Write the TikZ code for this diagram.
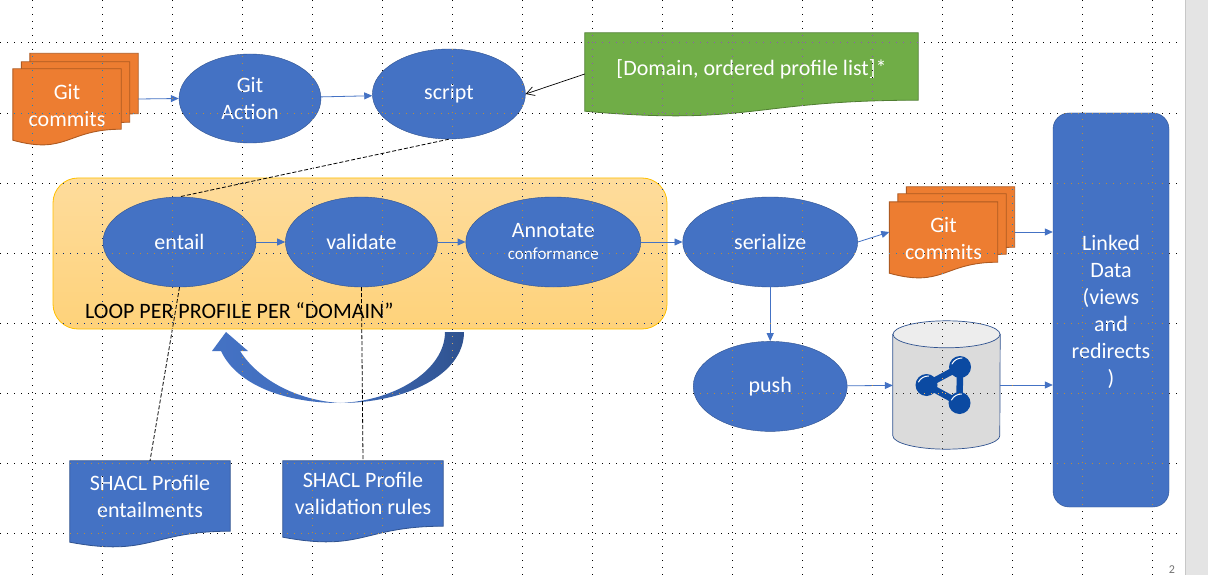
\documentclass[tikz,border=0pt]{standalone}
\usepackage{fontspec}
\setmainfont{Carlito}
\usetikzlibrary{shapes,arrows.meta,positioning,calc,backgrounds}
\definecolor{shapeblue}{HTML}{4472C4}
\definecolor{edgeblue}{HTML}{2F528F}
\definecolor{shapeorange}{HTML}{ED7D31}
\definecolor{edgeorange}{HTML}{AE5A21}
\definecolor{shapegreen}{HTML}{70AD47}
\definecolor{edgegreen}{HTML}{507E32}
\definecolor{ballblue}{HTML}{0B4AA2}
\definecolor{looptop}{HTML}{FEDC9C}
\definecolor{loopbottom}{HTML}{FED27A}
\definecolor{loopedge}{HTML}{FFC000}
% sheet with a wavy lower edge behind a named node
\newcommand{\wavedoc}[2]{\draw[#2] (#1.north west) -- (#1.north east) -- (#1.south east) .. controls (#1.south) and ($(#1.south)+(0,26)$) .. ($(#1.south west)+(0,11)$) -- cycle;}

\begin{document}
\begin{tikzpicture}[
  x=1pt, y=-1pt,
  font=\fontsize{22}{27}\selectfont,
  proc/.style={draw=edgeblue, fill=shapeblue, ellipse, text=white, align=center, inner sep=0pt, minimum width=153pt, minimum height=90pt},
  doc/.style={rectangle, text=white, align=center, inner sep=0pt},
  sheet/.style={doc, minimum width=108pt, minimum height=60pt},
  orangesheet/.style={draw=edgeorange, fill=shapeorange, line width=0.9pt},
  bluesheet/.style={draw=edgeblue, fill=shapeblue, line width=0.8pt},
  greensheet/.style={draw=edgegreen, fill=shapegreen, line width=0.8pt},
  flow/.style={draw=shapeblue, line width=0.8pt, -{Triangle[length=8pt,width=7pt]}},
  link/.style={draw=black, line width=0.8pt, dash pattern=on 4pt off 2pt},
  ball/.style={circle, fill=ballblue, minimum size=22pt, inner sep=0pt},
  griddots/.style={white, line width=1.2pt, dash pattern=on 1.2pt off 5.8pt, blend mode=difference}
]
\useasboundingbox (0,0) rectangle (1208,575);

% first row
\node[sheet] (commitsc) at (84,83.5) {};
\node[sheet] (commitsb) at (75.5,92) {};
\node[sheet] (commitsa) at (67,99) {\rule{0pt}{28pt}Git\\commits};
\node[proc, minimum width=142pt, minimum height=89pt] (action) at (250,98.5) {Git\\Action};
\node[proc, right=51pt of action.east, anchor=west, yshift=4.5pt] (script) {script};
\node[doc, minimum width=333pt, minimum height=67pt] (domain) at (751.5,66.5) {\rule{0pt}{21pt}[Domain, ordered profile list]*};

% the loop
\node[proc] (entail) at (179.5,242) {entail};
\node[proc, right=29pt of entail, minimum width=152pt] (validate) {validate};
\node[proc, right=28pt of validate, minimum width=175pt] (annotate) {Annotate\\[-5pt]{\fontsize{17}{20}\selectfont conformance}};
\node[proc, right=41.5pt of annotate, minimum width=175pt] (serialize) {serialize};
\node[inner sep=0pt, anchor=west] (looplabel) at (85,311) {LOOP PER PROFILE PER “DOMAIN”};

% output side
\node[proc, below=54pt of serialize, minimum width=154pt] (push) {push};
\node[sheet] (gitc) at (960.5,217) {};
\node[sheet] (gitb) at (952,224) {};
\node[sheet] (gita) at (943.5,232) {\rule{0pt}{28pt}Git\\commits};
\node[draw=edgeblue, fill=shapeblue, rectangle, rounded corners=16pt, text=white, align=center, minimum width=116pt, minimum height=394pt] (linked) at (1111,310) {\rule{0pt}{19pt}Linked\\Data\\(views\\and\\redirects\\)};
\node[rectangle, inner sep=0pt, minimum width=107pt, minimum height=128pt] (store) at (946.5,385) {};
\node[ball] (balla) at (960,367) {};
\node[ball] (ballb) at (926.5,385) {};
\node[ball] (ballc) at (959.5,403) {};

% profiles
\node[doc, minimum width=160pt, minimum height=70pt] (entailments) at (150,496) {SHACL Profile\\entailments};
\node[doc, minimum width=160pt, minimum height=65pt] (rules) at (363,493.5) {SHACL Profile\\validation rules};
\node[text=black!55, inner sep=0pt, font=\fontsize{12}{14}\selectfont] (pageno) at (1172,570) {2};

\begin{scope}[on background layer]
\fill[white] (0,0) rectangle (1208,575);
\fill[black!10.5] (1185,0) rectangle (1208,575);
\draw[black!22, line width=0.8pt] (1185.5,0) -- (1185.5,575);
\draw[draw=loopedge, top color=looptop, bottom color=loopbottom, line width=0.8pt, rounded corners=25pt] (53,178) rectangle (667,329);
\wavedoc{commitsc}{orangesheet}
\wavedoc{commitsb}{orangesheet}
\wavedoc{commitsa}{orangesheet}
\wavedoc{gitc}{orangesheet}
\wavedoc{gitb}{orangesheet}
\wavedoc{gita}{orangesheet}
\wavedoc{domain}{greensheet}
\wavedoc{entailments}{bluesheet}
\wavedoc{rules}{bluesheet}
\draw[draw=edgeblue, fill=black!14, line width=0.7pt] ($(store.north west)+(0,13.5)$) -- ($(store.south west)+(0,-13.5)$) arc[start angle=180, end angle=0, x radius=53.5, y radius=13.5] -- ($(store.north east)+(0,13.5)$) -- cycle;
\draw[draw=edgeblue, fill=black!7, line width=0.7pt] ($(store.north)+(0,13.5)$) ellipse[x radius=53.5, y radius=13.5];
\draw[ballblue, line width=6.5pt, line join=round] (balla.center) -- (ballb.center) -- (ballc.center) -- cycle;
\end{scope}

% highlights on the balls
\foreach \n in {balla,ballb,ballc}
  \draw[white, line width=1pt, line cap=round] ([shift={(-8pt,3pt)}]\n.center) .. controls ([shift={(-6pt,7pt)}]\n.center) and ([shift={(-2pt,9pt)}]\n.center) .. ([shift={(2pt,9pt)}]\n.center);

% curved arrow
\shade[left color=shapeblue, right color=edgeblue, middle color=shapeblue!85!edgeblue] (464,332) .. controls (464,375) and (405,403) .. (340,403) .. controls (285,403) and (237,385) .. (221,351) -- (212,351) -- (226,332) -- (248,351) -- (240,351) .. controls (262,385) and (305,401) .. (340,403) .. controls (395,401) and (445,370) .. (445,332) -- cycle;

% connectors
\draw[flow] (commitsa.east -| commitsc.east) -- (action.west);
\draw[flow] (action) -- (script);
\draw[flow] (entail) -- (validate);
\draw[flow] (validate) -- (annotate);
\draw[flow] (annotate) -- (serialize);
\draw[flow] (serialize.east) -- (gita.west);
\draw[flow] (gita.west -| gitc.east) -- (gita.west -| linked.west);
\draw[flow] (serialize) -- (push);
\draw[flow] (push) -- (store);
\draw[flow] (store.east) -- (store.east -| linked.west);
\draw[black, line width=0.7pt, -{Straight Barb[length=8pt,width=9pt]}] ([yshift=-7.5pt]domain.west) -- (script.east);
\draw[link] (script.south) -- (entail.north);
\draw[link] (entail.south) -- (entailments.north);
\draw[link] (validate.south) -- (rules.north);

% dotted grid
\foreach \gx in {32.5,102.5,...,1152.5}
  \draw[griddots] (\gx,0) -- (\gx,575);
\foreach \gy in {42.5,113.5,183.5,253.5,323.5,393.5,463.5,533.5}
  \draw[griddots] (0,\gy) -- (1181,\gy);
\end{tikzpicture}
\end{document}
